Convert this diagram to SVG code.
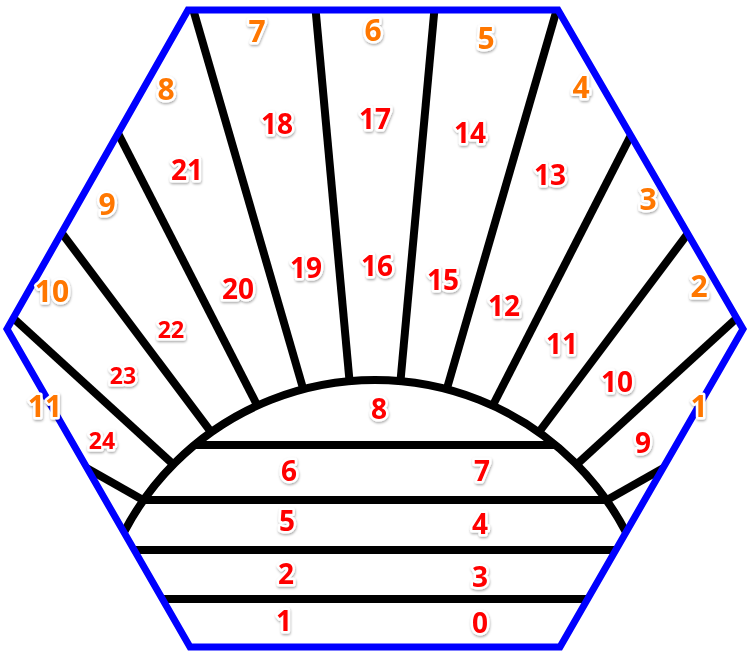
<svg xmlns="http://www.w3.org/2000/svg" width="750" height="656" viewBox="0 0 750 656">
<style>
.ln{stroke:#000;stroke-width:8;fill:none}
.hex{stroke:#0000ff;stroke-width:7;fill:none;stroke-linejoin:miter}
text{font-family:"Open Sans","Noto Sans","Liberation Sans",sans-serif;font-weight:bold;text-anchor:middle;stroke:#fff;stroke-width:5;stroke-linejoin:round;paint-order:stroke;filter:url(#sh)}
.o{fill:#ff7700;font-size:30px}
.r{fill:#ff0000;font-size:28px}
.rs{fill:#ff0000;font-size:23px}
</style>
<defs>
<filter id="sh" x="-30%" y="-30%" width="160%" height="160%">
<feDropShadow dx="0.5" dy="1.5" stdDeviation="0.8" flood-color="#000" flood-opacity="0.35"/>
</filter>
<clipPath id="hexclip"><path d="M188,10 L558,10 L743,329 L560,647 L190,647 L7,329 Z"/></clipPath>
<clipPath id="circclip"><circle cx="375" cy="663" r="283"/></clipPath>
<mask id="outside" maskUnits="userSpaceOnUse" x="0" y="0" width="750" height="656">
<rect x="0" y="0" width="750" height="656" fill="#fff"/>
<circle cx="375" cy="663" r="283" fill="#000"/>
</mask>
</defs>
<rect width="750" height="656" fill="#fff"/>
<g id="connectors">
<g clip-path="url(#hexclip)">
<g mask="url(#outside)">
<line class="ln" x1="190.4" y1="0" x2="318" y2="440"/>
<line class="ln" x1="314.7" y1="0" x2="354" y2="430"/>
<line class="ln" x1="435.3" y1="0" x2="396" y2="430"/>
<line class="ln" x1="559.6" y1="0" x2="432" y2="440"/>
<line class="ln" x1="100" y1="98" x2="280" y2="450"/>
<line class="ln" x1="650" y1="98" x2="470" y2="450"/>
<line class="ln" x1="40" y1="204" x2="250" y2="484"/>
<line class="ln" x1="710" y1="204" x2="500" y2="484"/>
<line class="ln" x1="0" y1="306" x2="210" y2="498"/>
<line class="ln" x1="750" y1="306" x2="540" y2="498"/>
<line class="ln" x1="60" y1="453" x2="180" y2="521"/>
<line class="ln" x1="690" y1="453" x2="570" y2="521"/>
</g>
<circle class="ln" cx="375" cy="663" r="283"/>
<g clip-path="url(#circclip)">
<line class="ln" x1="0" y1="445" x2="750" y2="445"/>
<line class="ln" x1="0" y1="500" x2="750" y2="500"/>
<line class="ln" x1="0" y1="550" x2="750" y2="550"/>
<line class="ln" x1="0" y1="599" x2="750" y2="599"/>
</g>
</g>
</g>
<g id="hexagon"><path class="hex" d="M188,10 L558,10 L743,329 L560,647 L190,647 L7,329 Z"/></g>
<g id="outer-labels">
<text class="o" x="257" y="42">7</text>
<text class="o" x="373" y="41">6</text>
<text class="o" x="486" y="49">5</text>
<text class="o" x="581" y="98">4</text>
<text class="o" x="648" y="210">3</text>
<text class="o" x="699" y="297">2</text>
<text class="o" x="699" y="417">1</text>
<text class="o" x="45" y="417">11</text>
<text class="o" x="52" y="302">10</text>
<text class="o" x="107" y="215">9</text>
<text class="o" x="166" y="100">8</text>
</g>
<g id="sector-labels">
<text class="r" x="277" y="134">18</text>
<text class="r" x="375" y="129">17</text>
<text class="r" x="470" y="143">14</text>
<text class="r" x="550" y="185">13</text>
<text class="r" x="187" y="180">21</text>
<text class="r" x="238" y="299">20</text>
<text class="r" x="306" y="278">19</text>
<text class="r" x="377" y="276">16</text>
<text class="r" x="443" y="290">15</text>
<text class="r" x="504" y="316">12</text>
<text class="r" x="562" y="354">11</text>
<text class="r" x="617" y="392">10</text>
<text class="r" x="643" y="453">9</text>
<text class="rs" x="171" y="338">22</text>
<text class="rs" x="123" y="384">23</text>
<text class="rs" x="102" y="449">24</text>
</g>
<g id="band-labels">
<text class="r" x="379" y="419">8</text>
<text class="r" x="289" y="481">6</text>
<text class="r" x="482" y="481">7</text>
<text class="r" x="287" y="531">5</text>
<text class="r" x="480" y="534">4</text>
<text class="r" x="286" y="584">2</text>
<text class="r" x="480" y="587">3</text>
<text class="r" x="284" y="631">1</text>
<text class="r" x="480" y="633">0</text>
</g>
</svg>
